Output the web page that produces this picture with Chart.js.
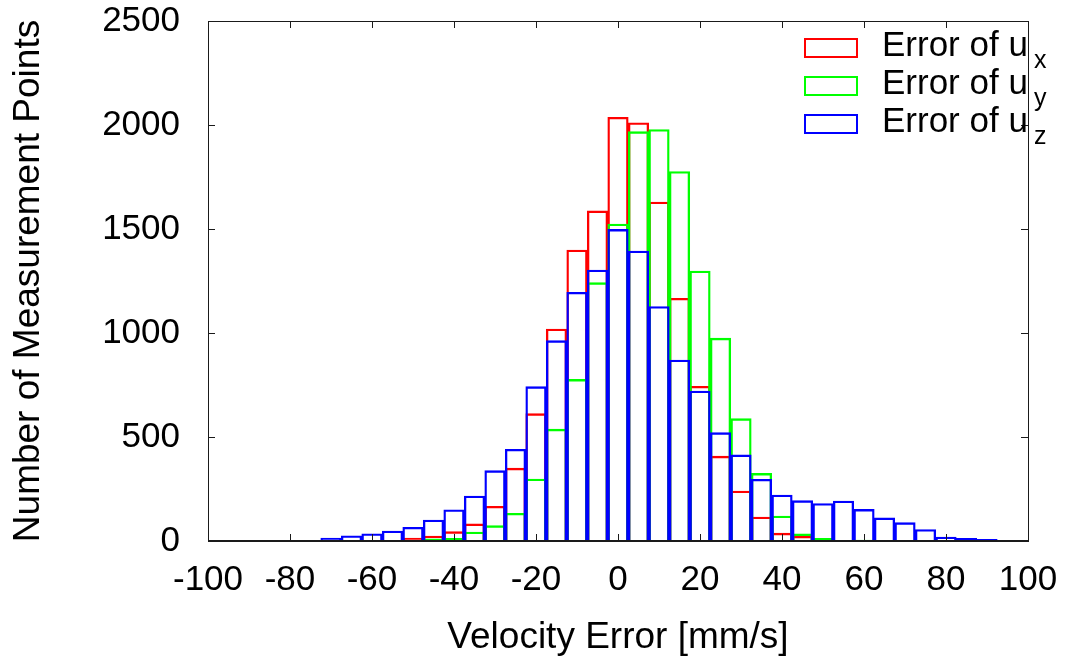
<!DOCTYPE html>
<html><head><meta charset="utf-8">
<script src="https://cdn.jsdelivr.net/npm/chart.js@4/dist/chart.umd.min.js"></script>
<style>html,body{margin:0;padding:0;background:#fff}canvas{display:block}</style>
</head><body>
<canvas id="c" width="1067" height="657"></canvas>
<script>
// ---- data ----
const binCenters = [-70,-65,-60,-55,-50,-45,-40,-35,-30,-25,-20,-15,-10,-5,0,5,10,15,20,25,30,35,40,45,50,55,60,65,70,75,80,85,90,95];
const errUx = [null,null,null,null,14,24,45,82,167,350,612,1019,1399,1587,2037,2011,1630,1167,744,408,240,115,38,23,6,null,null,null,null,null,null,null,null,null];
const errUy = [null,null,null,null,null,10,13,43,74,133,298,538,777,1242,1524,1968,1978,1776,1298,975,588,325,120,34,13,null,4,null,null,null,null,null,null,null];
const errUz = [14,25,35,48,66,101,150,216,338,441,742,963,1196,1303,1498,1394,1127,870,721,521,414,297,221,194,180,192,152,111,88,55,19,13,8,3];
const xTicks = [-100,-80,-60,-40,-20,0,20,40,60,80,100];
const yTicks = [0,500,1000,1500,2000,2500];
const seriesBase = ['Error of u','Error of u','Error of u'];
const seriesSub = ['x','y','z'];
const seriesColors = ['#ff0000','#00ff00','#0000ff'];
const xTitle = 'Velocity Error [mm/s]';
const yTitle = 'Number of Measurement Points';

const FONT = "'Liberation Sans', Arial, Helvetica, sans-serif";

function toPoints(vals){ return binCenters.map((c,i)=>({x:c,y:vals[i]})); }
function zeroPad(s){ s.paddingTop = 0; s.paddingBottom = 0; s.paddingLeft = 0; s.paddingRight = 0; }

const frame = {
  id:'frame',
  afterDatasetsDraw(chart){
    const {ctx, chartArea:{left,right,top,bottom}, scales:{x,y}} = chart;
    ctx.save();
    ctx.strokeStyle = '#1a1a1a';
    ctx.lineWidth = 1;
    ctx.beginPath();
    xTicks.forEach(v=>{
      const px = Math.round(x.getPixelForValue(v))+0.5;
      ctx.moveTo(px,bottom); ctx.lineTo(px,bottom-7);
      ctx.moveTo(px,top); ctx.lineTo(px,top+7);
    });
    yTicks.forEach(v=>{
      const py = Math.round(y.getPixelForValue(v))+0.5;
      ctx.moveTo(left,py); ctx.lineTo(left+7,py);
      ctx.moveTo(right,py); ctx.lineTo(right-7,py);
    });
    ctx.stroke();
    ctx.strokeRect(Math.round(left)+0.5, Math.round(top)+0.5, Math.round(right-left), Math.round(bottom-top));
    ctx.lineWidth = 2;
    ctx.beginPath(); ctx.moveTo(left,Math.round(bottom)); ctx.lineTo(right,Math.round(bottom)); ctx.stroke();
    ctx.restore();
  },
  afterDraw(chart){
    const ctx = chart.ctx;
    ctx.save();
    const rowBase = [56,94,132];
    seriesBase.forEach((t,i)=>{
      const b = rowBase[i];
      ctx.strokeStyle = seriesColors[i];
      ctx.lineWidth = 2;
      ctx.strokeRect(805, b-17, 52, 18);
      ctx.fillStyle = '#000';
      ctx.textBaseline = 'alphabetic';
      ctx.textAlign = 'left';
      ctx.font = "35px " + FONT;
      ctx.fillText(t, 882, b);
      const w = ctx.measureText(t).width;
      ctx.font = "25px " + FONT;
      ctx.fillText(seriesSub[i], 882 + w + 6, b + 12);
    });
    ctx.restore();
  }
};

const mk = (label, vals, color, order) => ({
  label, data: toPoints(vals), borderColor: color, backgroundColor: 'rgba(0,0,0,0)',
  borderWidth: 1.7, borderSkipped: 'start', order,
  barPercentage: 1, categoryPercentage: 1, grouped: false
});

new Chart(document.getElementById('c'), {
  type: 'bar',
  data: { datasets: [
    mk('Error of ux', errUx, seriesColors[0], 3),
    mk('Error of uy', errUy, seriesColors[1], 2),
    mk('Error of uz', errUz, seriesColors[2], 1)
  ]},
  options: {
    responsive: false, animation: false,
    layout: { padding: { top: 21, right: 39, left: 0, bottom: 0 } },
    plugins: { legend: { display: false }, tooltip: { enabled: false } },
    scales: {
      x: {
        type: 'linear', position: 'bottom', min: -100, max: 100, offset: false,
        afterBuildTicks: s => { s.ticks = xTicks.map(v => ({ value: v })); },
        afterFit: s => { s.height = 116; zeroPad(s); },
        grid: { display: false, drawTicks: false },
        border: { display: false },
        ticks: { color: '#000', font: { family: FONT, size: 35 }, padding: 18, maxRotation: 0, autoSkip: false, callback: v => String(v) },
        title: { display: true, text: xTitle, color: '#000', font: { family: FONT, size: 37, lineHeight: 1 }, padding: { top: 0, bottom: 1 } }
      },
      y: {
        type: 'linear', min: 0, max: 2500,
        afterBuildTicks: s => { s.ticks = yTicks.map(v => ({ value: v })); },
        afterFit: s => { s.width = 208; zeroPad(s); },
        grid: { display: false, drawTicks: false },
        border: { display: false },
        ticks: { color: '#000', font: { family: FONT, size: 35 }, padding: 28, callback: v => String(v) },
        title: { display: true, text: yTitle, color: '#000', font: { family: FONT, size: 37, lineHeight: 1 }, padding: { top: 10, bottom: 0 } }
      }
    }
  },
  plugins: [frame]
});
</script>
</body></html>
